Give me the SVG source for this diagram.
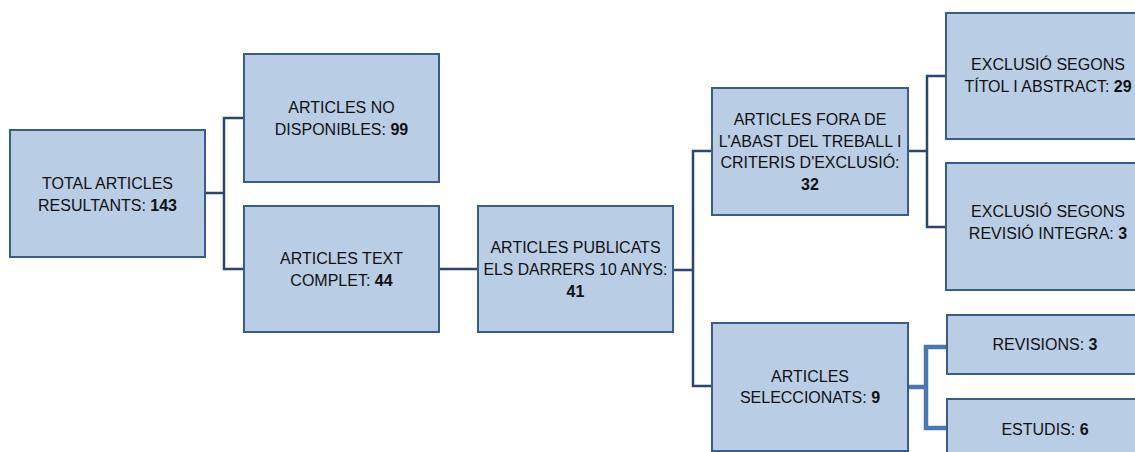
<svg xmlns="http://www.w3.org/2000/svg" width="1135" height="452" viewBox="0 0 1135 452">
<style>
.box{fill:#B9CDE5;stroke:#385D8A;stroke-width:2}
.t{font-family:"Liberation Sans",Arial,sans-serif;font-size:16px;fill:#111;text-anchor:middle}
.b{font-weight:bold}
.c{fill:none;stroke:#2A4670;stroke-width:2.5}
.ct{fill:none;stroke:#4A77B2;stroke-width:4.5}
</style>
<rect width="1135" height="452" fill="#fff"/>
<g id="connectors">
<path class="c" d="M205,193H224M243,118H224V269H243"/>
<path class="c" d="M439,269H478"/>
<path class="c" d="M673,270H693M712,151H693V386H712"/>
<path class="c" d="M908,151H927M946,76H927V227H946"/>
<path class="ct" d="M908,387H926M947,347H926V428H947"/>
</g>
<g id="n1"><rect class="box" x="10" y="130" width="195" height="127"/>
<text class="t" x="107.5" y="189">TOTAL ARTICLES</text>
<text class="t" x="107.5" y="211">RESULTANTS: <tspan class="b">143</tspan></text></g>
<g id="n2"><rect class="box" x="244" y="54" width="195" height="128"/>
<text class="t" x="341.5" y="113">ARTICLES NO</text>
<text class="t" x="341.5" y="135">DISPONIBLES: <tspan class="b">99</tspan></text></g>
<g id="n3"><rect class="box" x="244" y="206" width="195" height="126"/>
<text class="t" x="341.5" y="264">ARTICLES TEXT</text>
<text class="t" x="341.5" y="286">COMPLET: <tspan class="b">44</tspan></text></g>
<g id="n4"><rect class="box" x="478" y="206" width="195" height="126"/>
<text class="t" x="575.5" y="253">ARTICLES PUBLICATS</text>
<text class="t" x="575.5" y="275" textLength="184" lengthAdjust="spacingAndGlyphs">ELS DARRERS 10 ANYS:</text>
<text class="t b" x="575.5" y="297">41</text></g>
<g id="n5"><rect class="box" x="712" y="88" width="196" height="127"/>
<text class="t" x="810" y="125">ARTICLES FORA DE</text>
<text class="t" x="810" y="147">L'ABAST DEL TREBALL I</text>
<text class="t" x="810" y="168">CRITERIS D'EXCLUSIÓ:</text>
<text class="t b" x="810" y="190">32</text></g>
<g id="n6"><rect class="box" x="712" y="323" width="196" height="128"/>
<text class="t" x="810" y="382">ARTICLES</text>
<text class="t" x="810" y="403">SELECCIONATS: <tspan class="b">9</tspan></text></g>
<g id="n7"><rect class="box" x="946" y="13" width="198" height="126"/>
<text class="t" x="1048" y="70">EXCLUSIÓ SEGONS</text>
<text class="t" x="1048" y="92">TÍTOL I ABSTRACT: <tspan class="b">29</tspan></text></g>
<g id="n8"><rect class="box" x="946" y="163" width="198" height="127"/>
<text class="t" x="1048" y="217">EXCLUSIÓ SEGONS</text>
<text class="t" x="1048" y="239">REVISIÓ INTEGRA: <tspan class="b">3</tspan></text></g>
<g id="n9"><rect class="box" x="947" y="315" width="196" height="59"/>
<text class="t" x="1045" y="350">REVISIONS: <tspan class="b">3</tspan></text></g>
<g id="n10"><rect class="box" x="947" y="399" width="196" height="60"/>
<text class="t" x="1045" y="435">ESTUDIS: <tspan class="b">6</tspan></text></g>
</svg>
